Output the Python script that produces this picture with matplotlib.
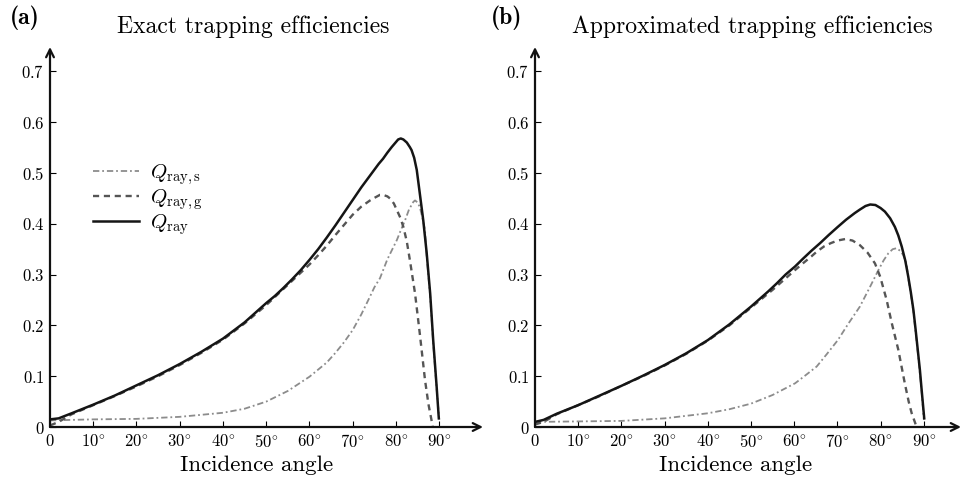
import matplotlib
matplotlib.use("Agg")
import matplotlib.pyplot as plt

plt.rcParams["font.family"] = "serif"
plt.rcParams["font.serif"] = ["cmr10", "DejaVu Serif"]
plt.rcParams["mathtext.fontset"] = "cm"
plt.rcParams["axes.unicode_minus"] = False

# (a) exact trapping efficiencies
ang_s_a = [0, 10, 20, 30, 40, 45, 50, 55, 60, 62, 64, 66, 68, 70, 72, 74, 75, 76.3, 78, 80.2, 81,
           82.1, 83, 84.0, 84.4, 85, 85.5, 86.1, 86.7, 87.1, 87.9, 88.6, 89.4, 90]
qs_a = [0.013, 0.015, 0.016, 0.020, 0.028, 0.036, 0.050, 0.071, 0.099, 0.113, 0.127, 0.146, 0.167,
        0.191, 0.222, 0.257, 0.275, 0.293, 0.330, 0.368, 0.385, 0.407, 0.428, 0.443, 0.446, 0.442,
        0.433, 0.412, 0.388, 0.335, 0.258, 0.165, 0.075, 0.015]

ang_g_a = [0, 2, 5, 10, 15, 20, 25, 30, 35, 40, 45, 50, 55, 60, 62, 64, 66, 68, 70, 72, 74, 75, 76.3,
           77, 78, 78.6, 79.5, 80.2, 81, 81.7, 82.5, 83.2, 84.4, 85.5, 86.7, 87.5, 88.2, 88.5]
qg_a = [0.003, 0.010, 0.025, 0.043, 0.061, 0.080, 0.100, 0.122, 0.146, 0.172, 0.204, 0.240, 0.280,
        0.320, 0.338, 0.357, 0.378, 0.398, 0.418, 0.434, 0.446, 0.451, 0.457, 0.457, 0.454, 0.450,
        0.440, 0.427, 0.412, 0.394, 0.365, 0.329, 0.263, 0.184, 0.093, 0.045, 0.014, 0.0]

ang_t_a = [0, 2, 5, 10, 15, 20, 25, 30, 35, 40, 45, 50, 52, 54, 56, 58, 60, 62, 64, 66, 68, 70, 72,
           74, 76, 77, 78, 79, 80, 80.5, 81.1, 81.7, 82.5, 83.2, 83.6, 84.2, 84.8, 85.5, 86.3, 87.1,
           87.9, 88.6, 89.4, 89.9]
qt_a = [0.015, 0.017, 0.027, 0.044, 0.062, 0.082, 0.102, 0.124, 0.148, 0.174, 0.206, 0.244, 0.258,
        0.274, 0.291, 0.309, 0.329, 0.350, 0.373, 0.397, 0.422, 0.447, 0.472, 0.495, 0.518, 0.528,
        0.540, 0.551, 0.561, 0.566, 0.568, 0.566, 0.560, 0.551, 0.545, 0.530, 0.506, 0.460, 0.407,
        0.342, 0.263, 0.171, 0.079, 0.017]

# (b) approximated trapping efficiencies
ang_s_b = [0, 10, 20, 30, 40, 45, 50, 55, 60.2, 62.5, 65.2, 67.5, 70.1, 72.5, 75.2, 77.5, 79.5, 80.7,
           81.8, 82.8, 83.7, 84.5, 85.2, 86.0, 86.4, 87, 87.6, 88.6, 89.5, 90]
qs_b = [0.010, 0.011, 0.012, 0.017, 0.027, 0.035, 0.046, 0.063, 0.086, 0.101, 0.119, 0.143, 0.171,
        0.203, 0.237, 0.275, 0.309, 0.328, 0.342, 0.350, 0.352, 0.347, 0.339, 0.322, 0.293, 0.262,
        0.226, 0.148, 0.070, 0.015]

ang_g_b = [0, 2, 5, 10, 15, 20, 25, 30, 35, 40, 45, 50, 55, 60.2, 62, 64, 65.2, 67, 68.5, 70, 71.8,
           73.5, 75.2, 77, 78.7, 79.9, 81.4, 82.6, 84.1, 85.6, 86.5, 87.2, 88.0, 88.3]
qg_b = [0.005, 0.010, 0.025, 0.043, 0.061, 0.081, 0.100, 0.121, 0.144, 0.170, 0.200, 0.235, 0.270,
        0.309, 0.322, 0.336, 0.345, 0.356, 0.362, 0.367, 0.370, 0.367, 0.358, 0.343, 0.322, 0.296,
        0.250, 0.204, 0.152, 0.086, 0.050, 0.027, 0.008, 0.0]

ang_t_b = [0, 2, 5, 10, 15, 20, 25, 30, 35, 40, 45, 50, 52, 54, 56, 58, 60.2, 62, 64, 66, 68, 70.1,
           72, 74, 75.2, 76.5, 77.6, 78.8, 80, 81, 82.2, 83.3, 84.1, 84.9, 85.7, 86.4, 87, 87.6,
           88.1, 88.6, 89.1, 89.5, 90.1]
qt_b = [0.010, 0.014, 0.026, 0.043, 0.062, 0.081, 0.101, 0.122, 0.145, 0.171, 0.202, 0.237, 0.252,
        0.267, 0.283, 0.300, 0.316, 0.331, 0.347, 0.362, 0.378, 0.394, 0.408, 0.421, 0.428, 0.435,
        0.438, 0.437, 0.431, 0.424, 0.411, 0.394, 0.377, 0.355, 0.328, 0.296, 0.265, 0.230, 0.192,
        0.152, 0.112, 0.073, 0.017]

xticks = [0, 10, 20, 30, 40, 50, 60, 70, 80, 90]
xtick_labels = ["$0$"] + [rf"${t}^{{\circ}}$" for t in xticks[1:]]
yticks = [0, 0.1, 0.2, 0.3, 0.4, 0.5, 0.6, 0.7]
ytick_labels = ["$0$"] + [f"${t:.1f}$" for t in yticks[1:]]

W, H = 962, 479
fig = plt.figure(figsize=(W / 100, H / 100), dpi=100)

c_s, c_g, c_t = "#8c8c8c", "#555555", "#151515"


def panel(left_px, right_px, x0_px, deg_px, data, legend=False):
    y0, ytop, per01 = 427, 47, 50.8
    ax = fig.add_axes([left_px / W, (H - y0) / H, (right_px - left_px) / W, (y0 - ytop) / H])
    ax.set_xlim((left_px - x0_px) / deg_px, (right_px - x0_px) / deg_px)
    ax.set_ylim(0, (y0 - ytop) / (per01 * 10))
    (a_s, q_s), (a_g, q_g), (a_t, q_t) = data
    ax.plot(a_s, q_s, color=c_s, lw=1.3, ls=(0, (3.5, 1.6, 1.0, 1.6)),
            label=r"$Q_{\mathrm{ray,s}}$")
    ax.plot(a_g, q_g, color=c_g, lw=1.7, ls=(0, (2.6, 2.0)),
            label=r"$Q_{\mathrm{ray,g}}$")
    ax.plot(a_t, q_t, color=c_t, lw=1.8, label=r"$Q_{\mathrm{ray}}$")
    for s in ax.spines.values():
        s.set_visible(False)
    ax.annotate("", xy=(1, 0), xytext=(0, 0), xycoords="axes fraction",
                arrowprops=dict(arrowstyle="->", lw=1.6, color="#111111",
                                shrinkA=0, shrinkB=0, mutation_scale=14))
    ax.annotate("", xy=(0, 1), xytext=(0, 0), xycoords="axes fraction",
                arrowprops=dict(arrowstyle="->", lw=1.6, color="#111111",
                                shrinkA=0, shrinkB=0, mutation_scale=14))
    ax.set_xticks(xticks)
    ax.set_xticklabels(xtick_labels)
    ax.set_yticks(yticks)
    ax.set_yticklabels(ytick_labels)
    ax.tick_params(direction="in", length=4, width=0.8, labelsize=12, pad=4)
    if legend:
        ax.legend(loc="upper left", bbox_to_anchor=(0.075, 0.725), frameon=False,
                  fontsize=15, handlelength=2.2, handletextpad=0.55,
                  labelspacing=0.02, borderpad=0)
    return ax


panel(50, 483, 50, 4.325, [(ang_s_a, qs_a), (ang_g_a, qg_a), (ang_t_a, qt_a)], legend=True)
panel(535, 961, 535, 4.32, [(ang_s_b, qs_b), (ang_g_b, qg_b), (ang_t_b, qt_b)])

fig.text(25 / W, 1 - 18 / H, "(a)", family="cmb10", fontsize=17, ha="center", va="center")
fig.text(507 / W, 1 - 18 / H, "(b)", family="cmb10", fontsize=17, ha="center", va="center")
fig.text(253 / W, 1 - 27 / H, "Exact trapping efficiencies", fontsize=17, ha="center", va="center")
fig.text(752 / W, 1 - 27 / H, "Approximated trapping efficiencies", fontsize=17, ha="center", va="center")
fig.text(257 / W, 1 - 465 / H, "Incidence angle", fontsize=16.5, ha="center", va="center")
fig.text(736 / W, 1 - 465 / H, "Incidence angle", fontsize=16.5, ha="center", va="center")

fig.savefig("out.png", dpi=100)
